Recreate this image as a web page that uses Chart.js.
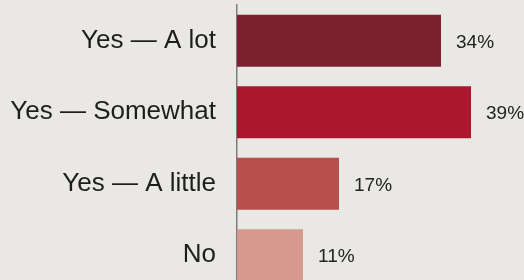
<!DOCTYPE html>
<html>
<head>
<meta charset="utf-8">
<script src="https://cdn.jsdelivr.net/npm/chart.js@4/dist/chart.umd.min.js"></script>
<style>
  html, body { margin: 0; padding: 0; background: #e9e8e4; overflow: hidden; }
  #wrap { width: 524px; height: 291px; }
</style>
</head>
<body>
<div id="wrap"><canvas id="answersChart" width="524" height="291"></canvas></div>
<script>
// survey answers
var categories = ['Yes \u2014 A lot', 'Yes \u2014 Somewhat', 'Yes \u2014 A little', 'No'];
var shares = [34, 39, 17, 11];
var barColors = ['#7a2230', '#a9182c', '#b7504b', '#d59a8d'];

// draw "34%" etc. just past the end of each bar
var valueLabels = {
    id: 'valueLabels',
    afterDatasetsDraw: function(chart) {
        var ctx = chart.ctx;
        var meta = chart.getDatasetMeta(0);
        ctx.save();
        ctx.font = '19px "Liberation Sans", Arial, sans-serif';
        ctx.fillStyle = '#222222';
        ctx.textAlign = 'left';
        ctx.textBaseline = 'middle';
        meta.data.forEach(function(bar, i) {
            ctx.fillText(shares[i] + '%', bar.x + 15, bar.y + 2);
        });
        ctx.restore();
    }
};

var ctx1 = document.getElementById('answersChart').getContext('2d');
var answersChart = new Chart(ctx1, {
    type: 'bar',
    data: {
        labels: categories,
        datasets: [{
            data: shares,
            backgroundColor: barColors,
            borderWidth: 0,
            barPercentage: 0.73,
            categoryPercentage: 1
        }]
    },
    options: {
        indexAxis: 'y',
        responsive: false,
        animation: false,
        layout: {
            padding: { top: 5, right: 47, bottom: 0, left: 0 }
        },
        plugins: {
            legend: { display: false },
            tooltip: { enabled: false }
        },
        scales: {
            x: {
                display: false,
                min: 0,
                max: 40
            },
            y: {
                afterFit: function(scale) {
                    scale.width = 237;
                    scale.paddingTop = 0;
                    scale.paddingBottom = 0;
                },
                grid: { display: false, drawTicks: false },
                border: { display: true, color: '#7c7c7c', width: 1.5 },
                ticks: {
                    padding: 21,
                    color: '#1e1e1e',
                    font: { family: '"Liberation Sans", Arial, sans-serif', size: 26 }
                }
            }
        }
    },
    plugins: [valueLabels]
});
</script>
</body>
</html>
